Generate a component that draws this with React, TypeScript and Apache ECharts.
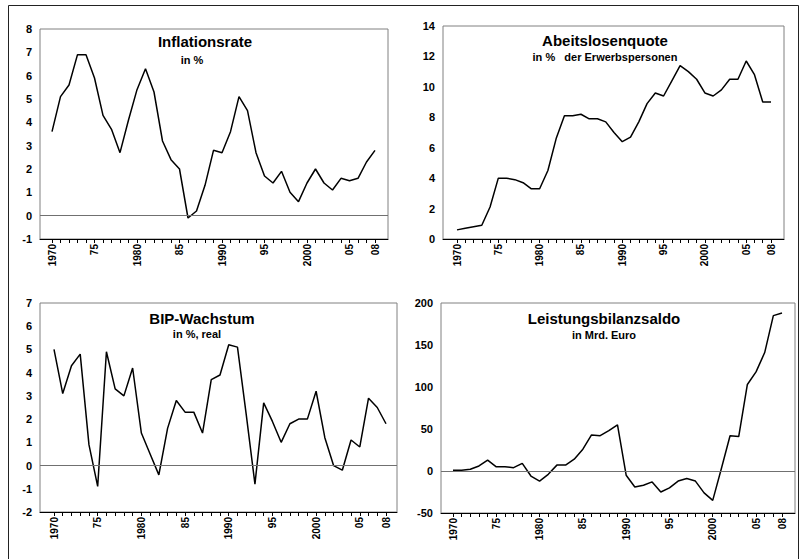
import React, { useEffect, useRef } from "react";
import * as echarts from "echarts";

// ---------- data ----------
const years = [
  1970, 1971, 1972, 1973, 1974, 1975, 1976, 1977, 1978, 1979,
  1980, 1981, 1982, 1983, 1984, 1985, 1986, 1987, 1988, 1989,
  1990, 1991, 1992, 1993, 1994, 1995, 1996, 1997, 1998, 1999,
  2000, 2001, 2002, 2003, 2004, 2005, 2006, 2007, 2008,
];

const inflation = [
  3.6, 5.1, 5.6, 6.9, 6.9, 5.9, 4.3, 3.7, 2.7, 4.1,
  5.4, 6.3, 5.3, 3.2, 2.4, 2.0, -0.1, 0.2, 1.3, 2.8,
  2.7, 3.6, 5.1, 4.5, 2.7, 1.7, 1.4, 1.9, 1.0, 0.6,
  1.4, 2.0, 1.4, 1.1, 1.6, 1.5, 1.6, 2.3, 2.8,
];

const unemployment = [
  0.6, 0.7, 0.8, 0.9, 2.1, 4.0, 4.0, 3.9, 3.7, 3.3,
  3.3, 4.5, 6.6, 8.1, 8.1, 8.2, 7.9, 7.9, 7.7, 7.0,
  6.4, 6.7, 7.7, 8.9, 9.6, 9.4, 10.4, 11.4, 11.0, 10.5,
  9.6, 9.4, 9.8, 10.5, 10.5, 11.7, 10.8, 9.0, 9.0,
];

const gdpGrowth = [
  5.0, 3.1, 4.3, 4.8, 0.9, -0.9, 4.9, 3.3, 3.0, 4.2,
  1.4, 0.5, -0.4, 1.6, 2.8, 2.3, 2.3, 1.4, 3.7, 3.9,
  5.2, 5.1, 2.2, -0.8, 2.7, 1.9, 1.0, 1.8, 2.0, 2.0,
  3.2, 1.2, 0.0, -0.2, 1.1, 0.8, 2.9, 2.5, 1.8,
];

const currentAccount = [
  1, 1, 2, 6, 13, 5, 5, 4, 9, -6,
  -12, -4, 7, 7, 14, 26, 43, 42, 48, 55,
  -5, -19, -17, -13, -25, -20, -12, -9, -12, -26,
  -35, 3, 42, 41, 103, 118, 141, 185, 188,
];

const titles = ["Inflationsrate", "Abeitslosenquote", "BIP-Wachstum", "Leistungsbilanzsaldo"];
const subtitles = ["in %", "in %   der Erwerbspersonen", "in %, real", "in Mrd. Euro"];
const yMins = [-1, 0, -2, -50];
const yMaxs = [8, 14, 7, 200];
const yIntervals = [1, 2, 1, 50];

// ---------- layout (pixels) ----------
const layouts = [
  { L: 40, T: 29, R: 388, B: 239, Li: 52, Ri: 375, tx: 205, ty: 41, sx: 192, sy: 60, zero: true },
  { L: 443, T: 26, R: 784, B: 239, Li: 457, Ri: 771, tx: 605, ty: 40, sx: 605, sy: 57, zero: false },
  { L: 40, T: 303, R: 397, B: 512, Li: 54, Ri: 386, tx: 202, ty: 318, sx: 197, sy: 334, zero: true },
  { L: 441, T: 303, R: 795, B: 513, Li: 453, Ri: 782, tx: 604, ty: 318, sx: 604, sy: 335, zero: true },
];

const seriesValues = [inflation, unemployment, gdpGrowth, currentAccount];
const FONT = '"Liberation Sans", Arial, sans-serif';

function yearLabel(y: number): string {
  if (y % 10 === 0) return String(y);
  return String(y % 100).padStart(2, "0");
}
function showYear(y: number): boolean {
  return y % 5 === 0 || y === 2008;
}

function buildOption() {
  const grid: any[] = [];
  const xAxis: any[] = [];
  const yAxis: any[] = [];
  const series: any[] = [];
  const graphic: any[] = [];
  const first = years[0];
  const last = years[years.length - 1];
  const n = years.length - 1;

  layouts.forEach((lay, i) => {
    const step = (lay.Ri - lay.Li) / n;
    const xMin = first - (lay.Li - lay.L) / step;
    const xMax = last + (lay.R - lay.Ri) / step;
    // outer frame grid
    grid.push({
      left: lay.L, top: lay.T, width: lay.R - lay.L, height: lay.B - lay.T,
      show: true, borderColor: "#808080", borderWidth: 1, backgroundColor: "transparent",
      containLabel: false,
    });
    // inner grid for category ticks / labels
    grid.push({
      left: lay.Li, top: lay.T, width: lay.Ri - lay.Li, height: lay.B - lay.T,
      show: false, containLabel: false,
    });
    xAxis.push({
      type: "value", gridIndex: 2 * i, min: xMin, max: xMax,
      axisLine: { show: true, onZero: false, lineStyle: { color: "#000", width: 1 } },
      axisTick: { show: false }, axisLabel: { show: false }, splitLine: { show: false },
    });
    xAxis.push({
      type: "category", gridIndex: 2 * i + 1, data: years.map(String), boundaryGap: false,
      position: "bottom",
      axisLine: { show: true, onZero: false, lineStyle: { color: "#000", width: 1 } },
      axisTick: { show: true, interval: 0, length: 4, inside: false, lineStyle: { color: "#000", width: 1 } },
      axisLabel: {
        interval: (_idx: number, val: string) => showYear(Number(val)),
        formatter: (val: string) => yearLabel(Number(val)),
        rotate: 90, margin: 5, fontSize: 10, fontWeight: "bold", color: "#000", fontFamily: FONT,
      },
      splitLine: { show: false },
    });
    yAxis.push({
      type: "value", gridIndex: 2 * i, min: yMins[i], max: yMaxs[i], interval: yIntervals[i],
      axisLine: { show: false }, axisTick: { show: false }, splitLine: { show: false },
      axisLabel: { fontSize: 11, fontWeight: "bold", color: "#000", fontFamily: FONT, margin: 8 },
    });
    yAxis.push({
      type: "value", gridIndex: 2 * i + 1, min: yMins[i], max: yMaxs[i], interval: yIntervals[i],
      show: false,
    });
    series.push({
      type: "line", xAxisIndex: 2 * i, yAxisIndex: 2 * i,
      data: years.map((y, k) => [y, seriesValues[i][k]]),
      symbol: "none", silent: true,
      lineStyle: { color: "#000", width: 1.5 },
      markLine: lay.zero
        ? {
            silent: true, symbol: "none", label: { show: false },
            lineStyle: { color: "#707070", width: 1, type: "solid" },
            data: [{ yAxis: 0 }],
          }
        : undefined,
    });
    graphic.push({
      type: "text", x: lay.tx, y: lay.ty, silent: true,
      style: {
        text: titles[i], fill: "#000", fontSize: 15, fontWeight: "bold", fontFamily: FONT,
        textAlign: "center", textVerticalAlign: "middle",
      },
    });
    graphic.push({
      type: "text", x: lay.sx, y: lay.sy, silent: true,
      style: {
        text: subtitles[i], fill: "#000", fontSize: 11, fontWeight: "bold", fontFamily: FONT,
        textAlign: "center", textVerticalAlign: "middle",
      },
    });
  });

  graphic.push({
    type: "rect", silent: true,
    shape: { x: 8.5, y: 5.5, width: 790, height: 600 },
    style: { fill: "none", stroke: "#222", lineWidth: 1 },
  });

  return {
    animation: false,
    backgroundColor: "#fff",
    grid, xAxis, yAxis, series, graphic,
  };
}

export default function App() {
  const ref = useRef<HTMLDivElement>(null);
  useEffect(() => {
    if (!ref.current) return;
    const chart = echarts.init(ref.current, undefined, { renderer: "svg" });
    chart.setOption(buildOption() as any);
    return () => chart.dispose();
  }, []);
  return (
    <div
      ref={ref}
      style={{ position: "fixed", left: 0, top: 0, width: 803, height: 559, background: "#fff" }}
    />
  );
}
